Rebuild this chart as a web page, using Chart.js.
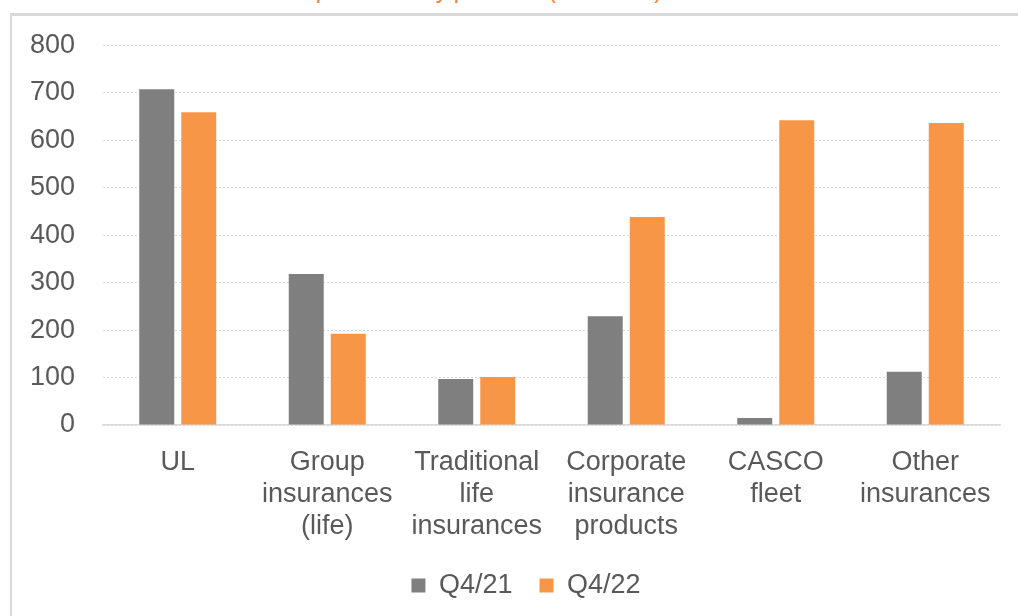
<!DOCTYPE html>
<html>
<head>
<meta charset="utf-8">
<script src="https://cdn.jsdelivr.net/npm/chart.js@4/dist/chart.umd.min.js"></script>
<style>
    html, body { margin: 0; padding: 0; background: #fff; overflow: hidden; }
    #page { position: relative; width: 1018px; height: 616px; }
    #title {
        position: absolute; top: -23px; right: 356px;
        white-space: nowrap; line-height: 23px;
        font: 23px "Liberation Sans", Arial, sans-serif; color: #f07f3c;
    }
    #frame {
        position: absolute; left: 10px; top: 13px; width: 1008px; height: 603px;
        border-left: 2px solid #d9d9d9; border-top: 3px solid #d9d9d9;
    }
    #wrap { position: absolute; left: 12px; top: 16px; width: 1006px; height: 600px; }
</style>
</head>
<body>
<div id="page">
    <div id="title">Gross written premiums by products (in EUR m)</div>
    <div id="frame"></div>
    <div id="wrap"><canvas id="barchart_products"></canvas></div>
</div>
<script>
const categories = [
    'UL',
    ['Group', 'insurances', '(life)'],
    ['Traditional', 'life', 'insurances'],
    ['Corporate', 'insurance', 'products'],
    ['CASCO', 'fleet'],
    ['Other', 'insurances']
];
const seriesNames = ['Q4/21', 'Q4/22'];
const valuesQ421 = [707, 318, 97, 229, 15, 112];
const valuesQ422 = [659, 192, 101, 438, 642, 636];
const yTicks = [0, 100, 200, 300, 400, 500, 600, 700, 800];

const labelFont = { family: '"Liberation Sans", Arial, sans-serif', size: 27 };

// move the legend a bit to the right, like in the original slide
const shiftLegend = {
    id: 'shiftLegend',
    afterLayout: (chart) => {
        chart.legend.left += 20;
        chart.legend.right += 20;
    }
};

new Chart("barchart_products", {
    type: 'bar',
    data: {
        labels: categories,
        datasets: [
            { label: seriesNames[0], data: valuesQ421, backgroundColor: '#7f7f7f' },
            { label: seriesNames[1], data: valuesQ422, backgroundColor: '#f79646' }
        ]
    },
    plugins: [shiftLegend],
    options: {
        responsive: true,
        maintainAspectRatio: false,
        animation: false,
        categoryPercentage: 0.562,
        barPercentage: 0.833,
        layout: { padding: { top: 0, right: 18, bottom: 7, left: 0 } },
        plugins: {
            legend: {
                position: 'bottom',
                labels: {
                    font: labelFont,
                    color: '#595959',
                    boxWidth: 14,
                    boxHeight: 14,
                    padding: 27
                }
            },
            tooltip: { enabled: false }
        },
        scales: {
            x: {
                grid: { display: false },
                border: { display: true, color: '#d9d9d9', width: 1.5 },
                ticks: {
                    font: { ...labelFont, lineHeight: 32 / 27 },
                    color: '#595959',
                    padding: 14,
                    maxRotation: 0,
                    autoSkip: false
                },
                afterFit: (scale) => { scale.height = 120; }
            },
            y: {
                min: 0,
                max: 800,
                afterBuildTicks: (scale) => { scale.ticks = yTicks.map(v => ({ value: v })); },
                grid: {
                    color: '#d9d9d9',
                    tickColor: 'rgba(0,0,0,0)',
                    tickLength: 15
                },
                border: { display: false, dash: [2, 2] },
                ticks: {
                    font: labelFont,
                    color: '#595959',
                    padding: 13
                },
                afterFit: (scale) => { scale.width = 91; }
            }
        }
    }
});
</script>
</body>
</html>
